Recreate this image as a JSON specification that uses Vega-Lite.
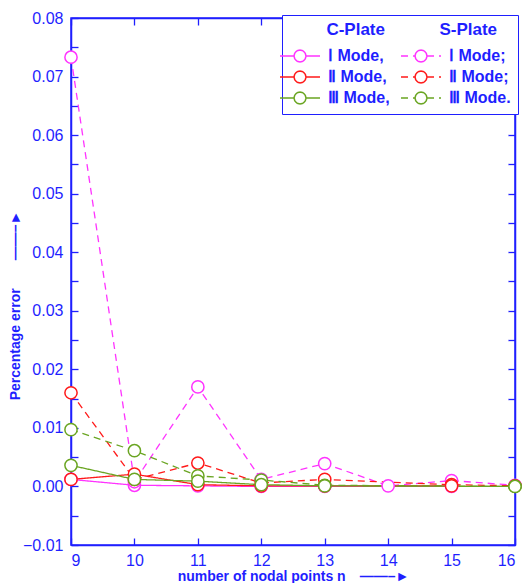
{
  "$schema": "https://vega.github.io/schema/vega-lite/v6.json",
  "width": 444,
  "height": 527,
  "autosize": "none",
  "padding": {"left": 71, "top": 18, "right": 13, "bottom": 38},
  "background": "white",
  "config": {
    "view": {"stroke": "#1f1fff", "strokeWidth": 1.5},
    "font": "Liberation Sans",
    "axis": {
      "domainColor": "#1f1fff", "domainWidth": 1.5, "tickColor": "#1f1fff", "tickWidth": 1.3,
      "labelColor": "#1f1fff", "labelFont": "Liberation Sans", "labelFontSize": 16,
      "titleColor": "#1f1fff", "titleFont": "Liberation Sans", "titleFontWeight": "bold",
      "grid": false
    },
    "legend": {
      "orient": "top-right", "offset": -3, "columns": 2,
      "titleFontSize": 17, "titleFontWeight": "bold", "titleColor": "#1f1fff", "titleFont": "Liberation Sans", "titleLimit": 400,
      "labelFontSize": 16, "labelFontWeight": "bold", "labelColor": "#1f1fff", "labelFont": "Liberation Sans", "labelLimit": 200,
      "symbolType": "M-2,0H-0.6M0.6,0H2M0.6,0L0.52,0.3M0.52,0.3L0.3,0.52M0.3,0.52L0,0.6M0,0.6L-0.3,0.52M-0.3,0.52L-0.52,0.3M-0.52,0.3L-0.6,0M-0.6,0L-0.52,-0.3M-0.52,-0.3L-0.3,-0.52M-0.3,-0.52L0,-0.6M0,-0.6L0.3,-0.52M0.3,-0.52L0.52,-0.3M0.52,-0.3L0.6,0",
      "symbolSize": 400, "symbolStrokeWidth": 1.5,
      "strokeColor": "#1f1fff", "fillColor": "white", "padding": 7,
      "columnPadding": 8, "rowPadding": 1, "labelOffset": 17, "titlePadding": 6
    }
  },
  "data": {
    "values": [
      {"series": "C1", "n": 9, "v": 0.0012},
      {"series": "C1", "n": 10, "v": 0.0002},
      {"series": "C1", "n": 11, "v": 0.0001},
      {"series": "C1", "n": 12, "v": 0.0},
      {"series": "C1", "n": 13, "v": 0.0},
      {"series": "C1", "n": 15, "v": 0.0},
      {"series": "S1", "n": 9, "v": 0.0733},
      {"series": "S1", "n": 10, "v": 0.0008},
      {"series": "S1", "n": 11, "v": 0.0170},
      {"series": "S1", "n": 12, "v": 0.0012},
      {"series": "S1", "n": 13, "v": 0.0039},
      {"series": "S1", "n": 14, "v": 0.0001},
      {"series": "S1", "n": 15, "v": 0.0010},
      {"series": "S1", "n": 16, "v": 0.0002},
      {"series": "S2", "n": 9, "v": 0.0160},
      {"series": "S2", "n": 10, "v": 0.0012},
      {"series": "S2", "n": 11, "v": 0.0040},
      {"series": "S2", "n": 12, "v": 0.0006},
      {"series": "S2", "n": 13, "v": 0.0012},
      {"series": "S2", "n": 15, "v": 0.0003},
      {"series": "S2", "n": 16, "v": 0.0001},
      {"series": "C2", "n": 9, "v": 0.0012},
      {"series": "C2", "n": 10, "v": 0.0021},
      {"series": "C2", "n": 11, "v": 0.0003},
      {"series": "C2", "n": 12, "v": 0.0001},
      {"series": "C2", "n": 13, "v": 0.0001},
      {"series": "C2", "n": 15, "v": 0.0001},
      {"series": "S3", "n": 9, "v": 0.0097},
      {"series": "S3", "n": 10, "v": 0.0061},
      {"series": "S3", "n": 11, "v": 0.0018},
      {"series": "S3", "n": 12, "v": 0.0011},
      {"series": "S3", "n": 13, "v": 0.0002},
      {"series": "S3", "n": 16, "v": 0.0},
      {"series": "C3", "n": 9, "v": 0.0036},
      {"series": "C3", "n": 10, "v": 0.0012},
      {"series": "C3", "n": 11, "v": 0.0009},
      {"series": "C3", "n": 12, "v": 0.0003},
      {"series": "C3", "n": 13, "v": 0.0001},
      {"series": "C3", "n": 16, "v": 0.0}
    ]
  },
  "layer": [
    {
      "mark": {"type": "line", "strokeWidth": 1.3},
      "encoding": {
        "x": {
          "field": "n", "type": "quantitative",
          "scale": {"domain": [9, 16], "nice": false, "zero": false},
          "axis": {
            "values": [9, 10, 11, 12, 13, 14, 15, 16], "format": "d",
            "tickSize": -7, "labelPadding": 14,
            "title": "number of nodal points n\u2003\u2014\u2014\u2013\u25ba", "titleFontSize": 14, "titlePadding": 1
          }
        },
        "y": {
          "field": "v", "type": "quantitative",
          "scale": {"domain": [-0.01, 0.08], "nice": false, "zero": false},
          "axis": {
            "values": [-0.01, -0.005, 0, 0.005, 0.01, 0.015, 0.02, 0.025, 0.03, 0.035, 0.04, 0.045, 0.05, 0.055, 0.06, 0.065, 0.07, 0.075, 0.08],
            "labelExpr": "abs(round(datum.value*1000)) % 10 == 0 ? format(datum.value, '.2f') : ''",
            "tickSize": -7, "labelPadding": 15,
            "title": "Percentage error\u2003\u2003\u2014\u2014\u2013\u25ba", "titleFontSize": 14, "titlePadding": 0, "titleY": 287
          }
        },
        "color": {
          "field": "series", "type": "nominal",
          "scale": {
            "domain": ["C1", "C2", "C3", "S1", "S2", "S3"],
            "range": ["#ff33ff", "#ff1a1a", "#6aa522", "#ff33ff", "#ff1a1a", "#6aa522"]
          },
          "legend": {
            "title": "\u200b\u2003\u2003\u2009C-Plate\u2003\u2003\u2003\u2009S-Plate",
            "labelExpr": "{'C1':'\u2160 Mode,','S1':'\u2160 Mode;','C2':'\u2161 Mode,','S2':'\u2161 Mode;','C3':'\u2162 Mode,','S3':'\u2162 Mode.'}[datum.value]"
          }
        },
        "strokeDash": {
          "field": "series", "type": "nominal",
          "scale": {
            "domain": ["C1", "C2", "C3", "S1", "S2", "S3"],
            "range": [[1, 0], [1, 0], [1, 0], [7, 5], [7, 5], [7, 5]]
          },
          "legend": {
            "title": "\u200b\u2003\u2003\u2009C-Plate\u2003\u2003\u2003\u2009S-Plate",
            "labelExpr": "{'C1':'\u2160 Mode,','S1':'\u2160 Mode;','C2':'\u2161 Mode,','S2':'\u2161 Mode;','C3':'\u2162 Mode,','S3':'\u2162 Mode.'}[datum.value]"
          }
        },
        "detail": {"field": "series", "type": "nominal"}
      }
    },
    {
      "mark": {"type": "point", "shape": "circle", "filled": false, "fill": "white", "fillOpacity": 1, "opacity": 1, "size": 150, "strokeWidth": 1.5},
      "encoding": {
        "x": {
          "field": "n", "type": "quantitative",
          "axis": {"orient": "top", "values": [9, 10, 11, 12, 13, 14, 15, 16], "labels": false, "tickSize": -7, "title": null}
        },
        "y": {
          "field": "v", "type": "quantitative",
          "axis": {
            "orient": "right",
            "values": [-0.01, -0.005, 0, 0.005, 0.01, 0.015, 0.02, 0.025, 0.03, 0.035, 0.04, 0.045, 0.05, 0.055, 0.06, 0.065, 0.07, 0.075, 0.08],
            "labels": false, "tickSize": -7, "title": null
          }
        },
        "color": {"field": "series", "type": "nominal"}
      }
    }
  ],
  "resolve": {"axis": {"x": "independent", "y": "independent"}}
}
